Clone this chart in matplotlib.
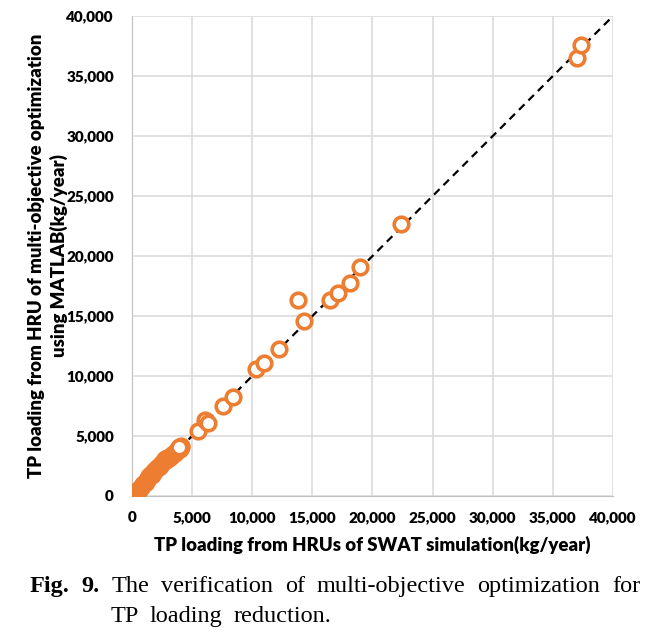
"""Fig. 9 - TP loading from HRUs: SWAT simulation vs multi-objective optimization (MATLAB)."""

import matplotlib
matplotlib.use("Agg")
import matplotlib.pyplot as plt

# SWAT-simulated TP loading (x) and MATLAB optimization result (y), kg/year
swat_tp = [0, 60, 150, 250, 350, 450, 550, 650, 750, 850, 950, 1050, 1150, 1250,
           1350, 1450, 1550, 1650, 1750, 1850, 1950, 2050, 2150, 2250, 2350, 2450,
           2550, 2650, 2750, 2850, 2950, 3050, 3150, 3250, 3350, 3450, 3550, 3650,
           3750, 3850, 3950, 4050, 4000, 4100, 3900,
           5500, 6100, 6300, 7600, 8400, 10300, 11000, 12250, 13800, 14300,
           16500, 17150, 18150, 19000, 22400, 37000, 37300]
matlab_tp = [0, 40, 120, 230, 300, 430, 560, 620, 760, 830, 980, 1100, 1180, 1300,
             1500, 1650, 1800, 1750, 1900, 2050, 2150, 2300, 2450, 2400, 2500, 2650,
             2800, 2950, 3100, 3000, 3150, 3200, 3250, 3300, 3400, 3500, 3550, 3700,
             3800, 3900, 3950, 4050, 3900, 4150, 4050,
             5400, 6300, 6100, 7500, 8250, 10600, 11050, 12250, 16300, 14600,
             16300, 16900, 17750, 19050, 22700, 36500, 37600]

ticks = list(range(0, 40001, 5000))
tick_labels = [f"{t:,}" for t in ticks]

ORANGE = "#ED7D31"
GRID = "#D9D9D9"

fig = plt.figure(figsize=(6.59, 6.34), dpi=100)
ax = fig.add_axes([0.2003, 0.2177, 0.7299, 0.757])

ax.plot([0, 40000], [0, 40000], ls=(0, (3.5, 2.5)), color="black", lw=1.6, zorder=2)
ax.plot(swat_tp, matlab_tp, ls="none", marker="o", ms=10.5, mfc="white",
        mec=ORANGE, mew=2.6, zorder=3)

ax.set_xlim(0, 40000)
ax.set_ylim(0, 40000)
ax.set_xticks(ticks)
ax.set_yticks(ticks)
ax.set_xticklabels(tick_labels)
ax.set_yticklabels(tick_labels)
ax.tick_params(axis="y", length=0, labelsize=11, pad=13)
ax.tick_params(axis="x", length=0, labelsize=11, pad=11)
for lab in ax.get_xticklabels() + ax.get_yticklabels():
    lab.set_fontfamily("Lato")
    lab.set_fontweight("heavy")
ax.grid(color=GRID, lw=1.1)
ax.set_axisbelow(True)
for side in ("top", "right"):
    ax.spines[side].set_visible(False)
for side in ("left", "bottom"):
    ax.spines[side].set_color("#BFBFBF")

lab_font = dict(family="Lato", weight="heavy", size=13.4)
ax.set_xlabel("TP loading from HRUs of SWAT simulation(kg/year)", labelpad=8, **lab_font)
ax.set_ylabel("TP loading from HRU of multi-objective optimization\nusing MATLAB(kg/year)",
              labelpad=-1, linespacing=1.3, **lab_font)

# justified caption
renderer = fig.canvas.get_renderer()
W, H = fig.bbox.width, fig.bbox.height


def place_words(words, x0, x1, y, justify=True, gap=None):
    arts = []
    for text, bold in words:
        arts.append(fig.text(0, y / H, text, family="Liberation Serif", size=17.5,
                             weight="bold" if bold else "normal", va="baseline"))
    widths = [a.get_window_extent(renderer).width for a in arts]
    if justify:
        gap = (x1 - x0 - sum(widths)) / (len(arts) - 1)
    x = x0
    for a, w in zip(arts, widths):
        a.set_x(x / W)
        x += w + gap
    return gap


line1 = [("Fig.", True), ("9.", True), ("The", False), ("verification", False),
         ("of", False), ("multi-objective", False), ("optimization", False), ("for", False)]
line2 = [("TP", False), ("loading", False), ("reduction.", False)]
gap = place_words(line1, 30, 640, H - 592)
place_words(line2, 111, None, H - 622, justify=False, gap=gap * 0.9)

fig.savefig("out.png", dpi=100)
